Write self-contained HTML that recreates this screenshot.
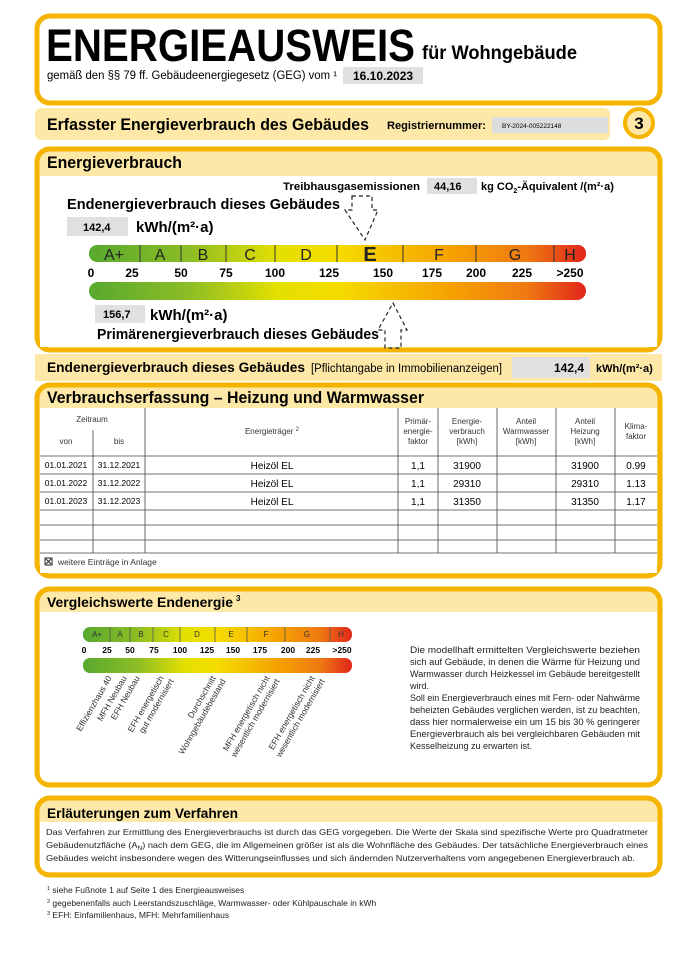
<!DOCTYPE html>
<html><head><meta charset="utf-8"><style>
html,body{margin:0;padding:0;background:#fff;}
svg{display:block;font-family:"Liberation Sans",Arial,sans-serif;}
</style></head><body>
<svg width="679" height="960" viewBox="0 0 679 960" xmlns="http://www.w3.org/2000/svg">
<defs>
<linearGradient id="g" x1="0" x2="1" y1="0" y2="0">
<stop offset="0" stop-color="#58a92f"/><stop offset="0.2" stop-color="#8cbd25"/>
<stop offset="0.38" stop-color="#e4e000"/><stop offset="0.5" stop-color="#f5dc00"/>
<stop offset="0.72" stop-color="#f5a300"/><stop offset="0.88" stop-color="#ef7a12"/>
<stop offset="1" stop-color="#e2261b"/>
</linearGradient>
</defs>
<rect width="679" height="960" fill="#fff"/>

<!-- Header -->
<rect x="37" y="16" width="623" height="87" rx="13" fill="#fff" stroke="#f5b400" stroke-width="5"/>
<text x="46" y="61" font-size="45" font-weight="bold" textLength="369" lengthAdjust="spacingAndGlyphs">ENERGIEAUSWEIS</text>
<text x="422" y="59" font-size="19" font-weight="bold" textLength="155" lengthAdjust="spacingAndGlyphs">für Wohngebäude</text>
<text x="47" y="79" font-size="11.5" textLength="290" lengthAdjust="spacingAndGlyphs">gemäß den §§ 79 ff. Gebäudeenergiegesetz (GEG) vom ¹</text>
<rect x="343" y="67" width="80" height="17" fill="#e0e0e0"/>
<text x="353" y="80" font-size="12" font-weight="bold">16.10.2023</text>

<!-- Banner -->
<rect x="35" y="108" width="575" height="32" rx="6" fill="#fde8a8"/>
<text x="47" y="130" font-size="16.5" font-weight="bold" textLength="322" lengthAdjust="spacingAndGlyphs">Erfasster Energieverbrauch des Gebäudes</text>
<text x="387" y="129" font-size="11" font-weight="bold" textLength="99" lengthAdjust="spacingAndGlyphs">Registriernummer:</text>
<rect x="492" y="117" width="116" height="16" fill="#ddd"/>
<text x="502" y="128" font-size="6.5">BY-2024-005222148</text>
<circle cx="639" cy="123" r="14" fill="#fde8a8" stroke="#f5b400" stroke-width="4"/>
<text x="639" y="129" font-size="17" font-weight="bold" text-anchor="middle">3</text>

<!-- Energieverbrauch box -->
<rect x="37" y="149" width="623" height="201" rx="13" fill="#fde8a8" stroke="#f5b400" stroke-width="5"/>
<rect x="40" y="176" width="617" height="171" fill="#fff"/>
<text x="47" y="168" font-size="16.5" font-weight="bold" textLength="135" lengthAdjust="spacingAndGlyphs">Energieverbrauch</text>

<text x="283" y="190" font-size="11" font-weight="bold" textLength="137" lengthAdjust="spacingAndGlyphs">Treibhausgasemissionen</text>
<rect x="427" y="178" width="50" height="16" fill="#e0e0e0"/>
<text x="434" y="190" font-size="11" font-weight="bold">44,16</text>
<text x="481" y="190" font-size="11" font-weight="bold">kg CO<tspan font-size="7" dy="3">2</tspan><tspan dy="-3">-Äquivalent /(m²·a)</tspan></text>

<text x="67" y="209" font-size="15" font-weight="bold" textLength="273" lengthAdjust="spacingAndGlyphs">Endenergieverbrauch dieses Gebäudes</text>
<rect x="67" y="217" width="61" height="19" fill="#e0e0e0"/>
<text x="83" y="231" font-size="11" font-weight="bold">142,4</text>
<text x="136" y="232" font-size="15" font-weight="bold">kWh/(m²·a)</text>

<path d="M352,196 H372 V210 H378 L365,240 L345,210 H352 Z" fill="none" stroke="#222" stroke-width="1.2" stroke-dasharray="4,3"/>

<rect x="89" y="245" width="497" height="17" rx="8" fill="url(#g)"/>
<g stroke="#333" stroke-width="1">
<line x1="140" y1="245" x2="140" y2="262"/><line x1="181" y1="245" x2="181" y2="262"/><line x1="226" y1="245" x2="226" y2="262"/><line x1="275" y1="245" x2="275" y2="262"/><line x1="337" y1="245" x2="337" y2="262"/><line x1="403" y1="245" x2="403" y2="262"/><line x1="476" y1="245" x2="476" y2="262"/><line x1="554" y1="245" x2="554" y2="262"/>
</g>
<g font-size="16" text-anchor="middle" fill="#222">
<text x="114" y="260">A+</text><text x="160" y="260">A</text><text x="203" y="260">B</text><text x="250" y="260">C</text><text x="306" y="260">D</text><text x="370" y="261" font-size="20" font-weight="bold">E</text><text x="439" y="260">F</text><text x="515" y="260">G</text><text x="570" y="260">H</text>
</g>
<g font-size="12" font-weight="bold" text-anchor="middle">
<text x="91" y="277">0</text><text x="132" y="277">25</text><text x="181" y="277">50</text><text x="226" y="277">75</text><text x="275" y="277">100</text><text x="329" y="277">125</text><text x="383" y="277">150</text><text x="432" y="277">175</text><text x="476" y="277">200</text><text x="522" y="277">225</text><text x="570" y="277">&gt;250</text>
</g>
<rect x="89" y="282" width="497" height="18" rx="9" fill="url(#g)"/>

<rect x="95" y="305" width="50" height="18" fill="#e0e0e0"/>
<text x="103" y="318" font-size="11" font-weight="bold">156,7</text>
<text x="150" y="320" font-size="15" font-weight="bold">kWh/(m²·a)</text>
<text x="97" y="339" font-size="15" font-weight="bold" textLength="282" lengthAdjust="spacingAndGlyphs">Primärenergieverbrauch dieses Gebäudes</text>
<path d="M393,303 L407,330 H401 V348 H385 V330 H378 Z" fill="none" stroke="#222" stroke-width="1.2" stroke-dasharray="4,3"/>

<!-- Row -->
<rect x="35" y="354" width="627" height="27" fill="#fde8a8"/>
<text x="47" y="372" font-size="14" font-weight="bold" textLength="258" lengthAdjust="spacingAndGlyphs">Endenergieverbrauch dieses Gebäudes</text>
<text x="311" y="372" font-size="11.5" textLength="191" lengthAdjust="spacingAndGlyphs">[Pflichtangabe in Immobilienanzeigen]</text>
<rect x="512" y="357" width="78" height="21" fill="#e0e0e0"/>
<text x="584" y="372" font-size="12" font-weight="bold" text-anchor="end">142,4</text>
<text x="596" y="372" font-size="11" font-weight="bold">kWh/(m²·a)</text>

<!-- Verbrauchserfassung -->
<rect x="37" y="385" width="623" height="191" rx="13" fill="#fde8a8" stroke="#f5b400" stroke-width="5"/>
<rect x="40" y="408" width="617" height="165" fill="#fff"/>
<text x="47" y="403" font-size="16.5" font-weight="bold" textLength="377" lengthAdjust="spacingAndGlyphs">Verbrauchserfassung – Heizung und Warmwasser</text>
<g stroke="#444" stroke-width="0.8">
<line x1="40" y1="456" x2="657" y2="456"/><line x1="40" y1="474" x2="657" y2="474"/><line x1="40" y1="492" x2="657" y2="492"/><line x1="40" y1="510" x2="657" y2="510"/><line x1="40" y1="525" x2="657" y2="525"/><line x1="40" y1="540" x2="657" y2="540"/><line x1="40" y1="553" x2="657" y2="553"/>
<line x1="93" y1="430" x2="93" y2="553"/><line x1="145" y1="408" x2="145" y2="553"/><line x1="398" y1="408" x2="398" y2="553"/><line x1="438" y1="408" x2="438" y2="553"/><line x1="497" y1="408" x2="497" y2="553"/><line x1="556" y1="408" x2="556" y2="553"/><line x1="615" y1="408" x2="615" y2="553"/>
</g>
<g font-size="8" text-anchor="middle" fill="#333">
<text x="92" y="422">Zeitraum</text><text x="66" y="444">von</text><text x="119" y="444">bis</text>
<text x="272" y="434">Energieträger <tspan font-size="6" dy="-3">2</tspan></text>
<text x="418" y="424">Primär-</text><text x="418" y="434">energie-</text><text x="418" y="444">faktor</text>
<text x="467" y="424">Energie-</text><text x="467" y="434">verbrauch</text><text x="467" y="444">[kWh]</text>
<text x="526" y="424">Anteil</text><text x="526" y="434">Warmwasser</text><text x="526" y="444">[kWh]</text>
<text x="585" y="424">Anteil</text><text x="585" y="434">Heizung</text><text x="585" y="444">[kWh]</text>
<text x="636" y="429">Klima-</text><text x="636" y="439">faktor</text>
</g>
<g font-size="8.5" text-anchor="middle">
<text x="66" y="468">01.01.2021</text><text x="119" y="468">31.12.2021</text>
<text x="66" y="486">01.01.2022</text><text x="119" y="486">31.12.2022</text>
<text x="66" y="504">01.01.2023</text><text x="119" y="504">31.12.2023</text>
</g>
<g font-size="10" text-anchor="middle">
<text x="272" y="469">Heizöl EL</text><text x="418" y="469">1,1</text><text x="467" y="469">31900</text><text x="585" y="469">31900</text><text x="636" y="469">0.99</text>
<text x="272" y="487">Heizöl EL</text><text x="418" y="487">1,1</text><text x="467" y="487">29310</text><text x="585" y="487">29310</text><text x="636" y="487">1.13</text>
<text x="272" y="505">Heizöl EL</text><text x="418" y="505">1,1</text><text x="467" y="505">31350</text><text x="585" y="505">31350</text><text x="636" y="505">1.17</text>
</g>
<rect x="45" y="558" width="7" height="7" fill="#fff" stroke="#222" stroke-width="1"/>
<path d="M46,559 L51,564 M51,559 L46,564" stroke="#222" stroke-width="1"/>
<text x="58" y="565" font-size="8.5" fill="#333">weitere Einträge in Anlage</text>

<!-- Vergleichswerte -->
<rect x="37" y="589" width="623" height="196" rx="13" fill="#fde8a8" stroke="#f5b400" stroke-width="5"/>
<rect x="40" y="612" width="617" height="170" rx="8" fill="#fff"/>
<rect x="40" y="612" width="617" height="20" fill="#fff"/>
<text x="47" y="607" font-size="14" font-weight="bold" textLength="186" lengthAdjust="spacingAndGlyphs">Vergleichswerte Endenergie</text>
<text x="236" y="601" font-size="8" font-weight="bold">3</text>

<rect x="83" y="627" width="269" height="15" rx="7" fill="url(#g)"/>
<g stroke="#555" stroke-width="0.8">
<line x1="110" y1="627" x2="110" y2="642"/><line x1="130" y1="627" x2="130" y2="642"/><line x1="153" y1="627" x2="153" y2="642"/><line x1="180" y1="627" x2="180" y2="642"/><line x1="215" y1="627" x2="215" y2="642"/><line x1="247" y1="627" x2="247" y2="642"/><line x1="285" y1="627" x2="285" y2="642"/><line x1="330" y1="627" x2="330" y2="642"/>
</g>
<g font-size="8" text-anchor="middle" fill="#333">
<text x="97" y="637">A+</text><text x="120" y="637">A</text><text x="141" y="637">B</text><text x="166" y="637">C</text><text x="197" y="637">D</text><text x="231" y="637">E</text><text x="266" y="637">F</text><text x="307" y="637">G</text><text x="341" y="637">H</text>
</g>
<g font-size="8.5" font-weight="bold" text-anchor="middle">
<text x="84" y="653">0</text><text x="107" y="653">25</text><text x="130" y="653">50</text><text x="154" y="653">75</text><text x="180" y="653">100</text><text x="207" y="653">125</text><text x="233" y="653">150</text><text x="260" y="653">175</text><text x="288" y="653">200</text><text x="313" y="653">225</text><text x="342" y="653">&gt;250</text>
</g>
<rect x="83" y="658" width="269" height="15" rx="7" fill="url(#g)"/>

<g font-size="8.5" fill="#333" text-anchor="end">
<text transform="translate(112,678) rotate(-60)">Effizienzhaus 40</text>
<text transform="translate(127,678) rotate(-60)">MFH Neubau</text>
<text transform="translate(140,678) rotate(-60)">EFH Neubau</text>
<text transform="translate(164,678) rotate(-60)">EFH energetisch</text>
<text transform="translate(174,681) rotate(-60)">gut modernisiert</text>
<text transform="translate(216,678) rotate(-60)">Durchschnitt</text>
<text transform="translate(226,681) rotate(-60)">Wohngebäudebestand</text>
<text transform="translate(270,678) rotate(-60)">MFH energetisch nicht</text>
<text transform="translate(280,681) rotate(-60)">wesentlich modernisiert</text>
<text transform="translate(315,678) rotate(-60)">EFH energetisch nicht</text>
<text transform="translate(325,681) rotate(-60)">wesentlich modernisiert</text>
</g>

<g font-size="9" fill="#222">
<text x="410" y="653" textLength="230" lengthAdjust="spacingAndGlyphs">Die modellhaft ermittelten Vergleichswerte beziehen</text>
<text x="410" y="665" textLength="230" lengthAdjust="spacingAndGlyphs">sich auf Gebäude, in denen die Wärme für Heizung und</text>
<text x="410" y="677" textLength="230" lengthAdjust="spacingAndGlyphs">Warmwasser durch Heizkessel im Gebäude bereitgestellt</text>
<text x="410" y="689">wird.</text>
<text x="410" y="701" textLength="230" lengthAdjust="spacingAndGlyphs">Soll ein Energieverbrauch eines mit Fern- oder Nahwärme</text>
<text x="410" y="713" textLength="230" lengthAdjust="spacingAndGlyphs">beheizten Gebäudes verglichen werden, ist zu beachten,</text>
<text x="410" y="725" textLength="230" lengthAdjust="spacingAndGlyphs">dass hier normalerweise ein um 15 bis 30 % geringerer</text>
<text x="410" y="737" textLength="230" lengthAdjust="spacingAndGlyphs">Energieverbrauch als bei vergleichbaren Gebäuden mit</text>
<text x="410" y="749">Kesselheizung zu erwarten ist.</text>
</g>

<!-- Erläuterungen -->
<rect x="37" y="798" width="623" height="77" rx="13" fill="#fde8a8" stroke="#f5b400" stroke-width="5"/>
<rect x="40" y="822" width="617" height="50" rx="8" fill="#fff"/>
<rect x="40" y="822" width="617" height="20" fill="#fff"/>
<text x="47" y="818" font-size="14" font-weight="bold" textLength="191" lengthAdjust="spacingAndGlyphs">Erläuterungen zum Verfahren</text>
<g font-size="8.5" fill="#222">
<text x="46" y="835" textLength="602" lengthAdjust="spacingAndGlyphs">Das Verfahren zur Ermittlung des Energieverbrauchs ist durch das GEG vorgegeben. Die Werte der Skala sind spezifische Werte pro Quadratmeter</text>
<text x="46" y="848" textLength="602" lengthAdjust="spacingAndGlyphs">Gebäudenutzfläche (A<tspan font-size="6" dy="2">N</tspan><tspan dy="-2">) nach dem GEG, die im Allgemeinen größer ist als die Wohnfläche des Gebäudes. Der tatsächliche Energieverbrauch eines</tspan></text>
<text x="46" y="861" textLength="589" lengthAdjust="spacingAndGlyphs">Gebäudes weicht insbesondere wegen des Witterungseinflusses und sich ändernden Nutzerverhaltens vom angegebenen Energieverbrauch ab.</text>
</g>

<!-- Footnotes -->
<g font-size="8.5" fill="#222">
<text x="47" y="893"><tspan font-size="5.5" dy="-3">1</tspan><tspan dy="3"> siehe Fußnote 1 auf Seite 1 des Energieausweises</tspan></text>
<text x="47" y="906"><tspan font-size="5.5" dy="-3">2</tspan><tspan dy="3"> gegebenenfalls auch Leerstandszuschläge, Warmwasser- oder Kühlpauschale in kWh</tspan></text>
<text x="47" y="918"><tspan font-size="5.5" dy="-3">3</tspan><tspan dy="3"> EFH: Einfamilienhaus, MFH: Mehrfamilienhaus</tspan></text>
</g>
</svg>
</body></html>
